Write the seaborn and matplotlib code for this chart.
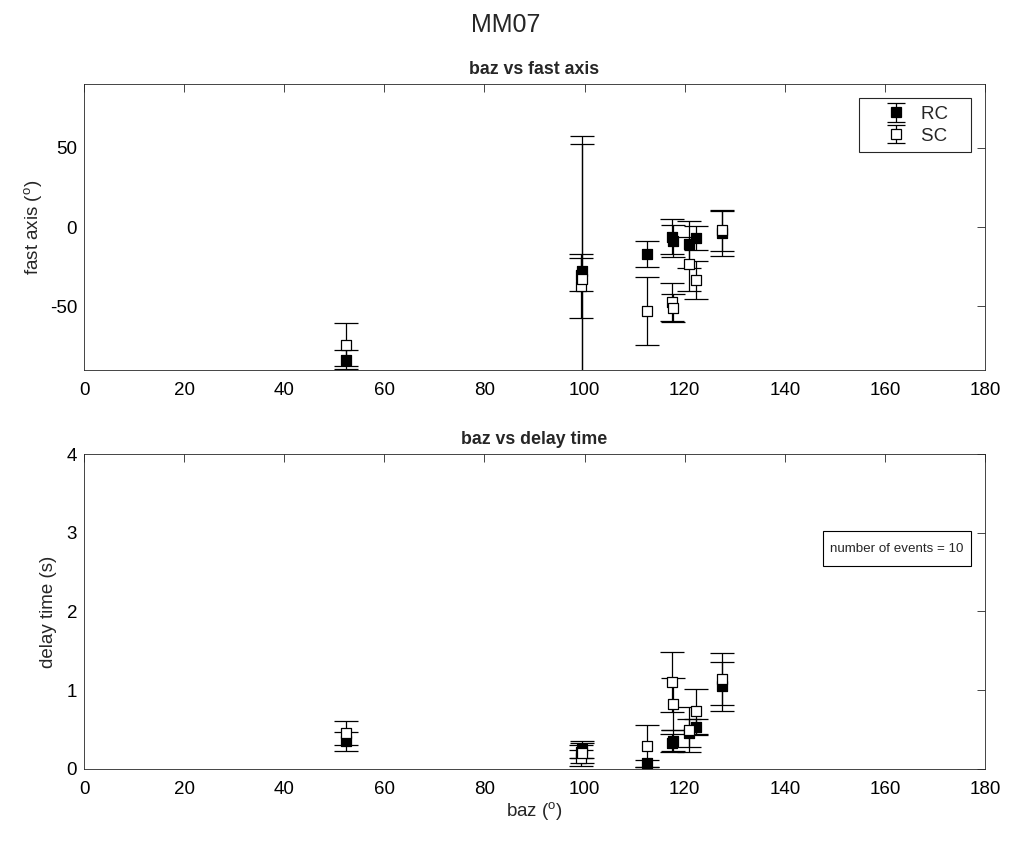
import numpy as np
import pandas as pd
import matplotlib
matplotlib.use("Agg")
import matplotlib.pyplot as plt
import matplotlib.patches as mpatches
import seaborn as sns

# Station and per-event splitting measurements
station = "MM07"
n_events = 10
baz = [52.3, 99.2, 99.4, 112.4, 117.4, 117.7, 120.9, 122.3, 127.4]

# Fast-axis orientation (degrees) with 1-sigma errors
rc_fast = [-83.5, -30.0, -28.0, -17.0, -6.0, -9.0, -11.0, -7.0, -4.0]
rc_fast_err = [6.0, 10.5, 85.0, 8.0, 11.0, 10.0, 15.0, 7.5, 14.0]
sc_fast = [-74.0, -37.0, -33.0, -53.0, -47.0, -51.0, -23.0, -33.5, -2.0]
sc_fast_err = [13.5, 20.0, 85.0, 21.5, 12.0, 9.0, 17.0, 12.0, 13.0]

# Delay times (s) with 1-sigma errors
rc_dt = [0.35, 0.22, 0.25, 0.07, 0.33, 0.36, 0.46, 0.53, 1.05]
rc_dt_err = [0.12, 0.08, 0.11, 0.05, 0.11, 0.13, 0.18, 0.10, 0.31]
sc_dt = [0.46, 0.14, 0.20, 0.29, 1.10, 0.83, 0.50, 0.73, 1.14]
sc_dt_err = [0.15, 0.10, 0.13, 0.27, 0.38, 0.33, 0.29, 0.29, 0.33]

x_ticks = [0, 20, 40, 60, 80, 100, 120, 140, 160, 180]
fast_ticks = [-50, 0, 50]
dt_ticks = [0, 1, 2, 3, 4]

sns.set_theme(style="white")
plt.rcParams["font.family"] = ["Liberation Sans", "DejaVu Sans"]
plt.rcParams["mathtext.fontset"] = "custom"
plt.rcParams["mathtext.rm"] = "Liberation Sans"
plt.rcParams["mathtext.it"] = "Liberation Sans"
plt.rcParams["axes.unicode_minus"] = False

axis_col = "0.15"
fs = 13.5
fig = plt.figure(figsize=(10.11, 8.48), dpi=100)
ax1 = fig.add_axes([0.0831, 0.5637, 0.8912, 0.3372])
ax2 = fig.add_axes([0.0831, 0.0932, 0.8912, 0.3714])

fast_df = pd.DataFrame({
    "baz": baz * 2,
    "value": rc_fast + sc_fast,
    "err": rc_fast_err + sc_fast_err,
    "series": ["RC"] * len(baz) + ["SC"] * len(baz),
})
dt_df = pd.DataFrame({
    "baz": baz * 2,
    "value": rc_dt + sc_dt,
    "err": rc_dt_err + sc_dt_err,
    "series": ["RC"] * len(baz) + ["SC"] * len(baz),
})

palette = {"RC": "black", "SC": "white"}
cap = 8.5
msize = 6.5


def draw(ax, df):
    for i, name in enumerate(["RC", "SC"]):
        sub = df[df["series"] == name]
        ax.errorbar(sub["baz"], sub["value"], yerr=sub["err"], fmt="none",
                    ecolor="black", elinewidth=0.9, capsize=cap,
                    capthick=0.9, zorder=2 + 2 * i)
        sns.scatterplot(data=sub, x="baz", y="value", color=palette[name],
                        marker="s", s=msize ** 2, edgecolor="black",
                        linewidth=0.9, ax=ax, legend=False, zorder=3 + 2 * i)


draw(ax1, fast_df)
draw(ax2, dt_df)

for ax in (ax1, ax2):
    ax.set_xlim(0, 180)
    ax.set_xticks(x_ticks)
    ax.tick_params(direction="in", length=6, width=0.6, colors=axis_col,
                   labelcolor="black", labelsize=fs, top=True, right=True)
    ax.tick_params(axis="x", pad=9)
    ax.tick_params(axis="y", pad=5)
    for sp in ax.spines.values():
        sp.set_color(axis_col)
        sp.set_linewidth(0.6)
        sp.set_visible(True)
    ax.set_xlabel("")
    ax.set_ylabel("")

ax1.set_ylim(-90, 90)
ax1.set_yticks(fast_ticks)
ax1.set_ylabel(r"fast axis ($^{\rm o}$)", fontsize=fs, labelpad=4)
ax1.set_title("baz vs fast axis", fontsize=12.8, fontweight="bold", pad=7)

ax2.set_ylim(0, 4)
ax2.set_yticks(dt_ticks)
ax2.set_ylabel("delay time (s)", fontsize=fs, labelpad=7)
ax2.set_xlabel(r"baz ($^{\rm o}$)", fontsize=fs, labelpad=1)
ax2.set_title("baz vs delay time", fontsize=12.8, fontweight="bold", pad=7)

# Legend handles with the errorbar glyph
handles = []
for name in ["RC", "SC"]:
    h = ax1.errorbar([np.nan], [np.nan], yerr=[1], fmt="s",
                     mfc=palette[name], mec="black", mew=0.9, ms=msize,
                     ecolor="black", elinewidth=0.9, capsize=cap * 0.8,
                     capthick=0.9, label=name)
    handles.append(h)
leg = ax1.legend(handles=handles, labels=["RC   ", "SC   "], loc="upper right",
                 fontsize=fs, frameon=True, fancybox=False, framealpha=1,
                 edgecolor=axis_col, borderaxespad=0.75, handlelength=3.2,
                 handletextpad=-0.3, labelspacing=0.25, borderpad=0.4)
leg.get_frame().set_linewidth(0.8)

# Event-count annotation in an outlined box
ax2.add_patch(mpatches.Rectangle((0.820, 0.644), 0.164, 0.112,
                                 transform=ax2.transAxes, fc="white",
                                 ec="black", lw=0.8, zorder=6))
ax2.text(0.902, 0.700, f"number of events = {n_events}", transform=ax2.transAxes,
         ha="center", va="center", fontsize=9.6, zorder=7)

fig.suptitle(station, fontsize=18, y=0.985)

fig.savefig("out.png", dpi=100)
